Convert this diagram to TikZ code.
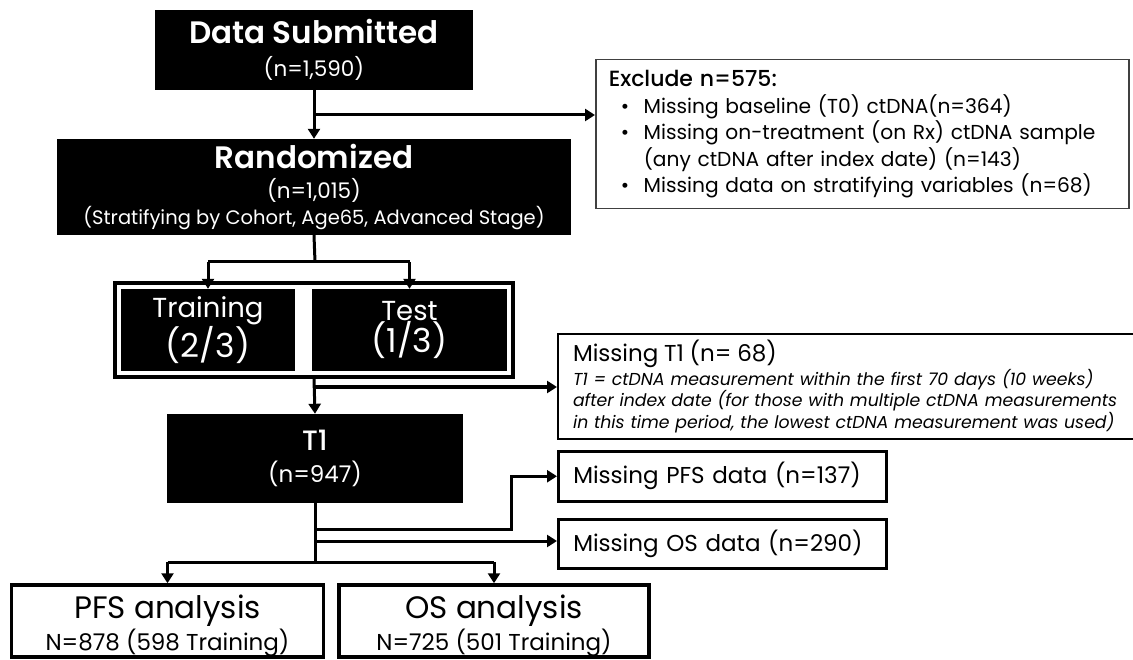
\documentclass[tikz,border=0pt]{standalone}
\usepackage{fontspec}
\setmainfont{Poppins}
\newfontfamily\medfont{Poppins Medium}
\newfontfamily\semifont{Poppins SemiBold}
\usetikzlibrary{arrows.meta,fit}

\newcommand{\fsz}[2]{\fontsize{#1}{#2}\selectfont}
\tikzstyle{darkbox} = [fill=black, text=white, inner sep=0pt, align=center]
\tikzstyle{notebox} = [draw=black, fill=white, align=left, inner xsep=15pt, inner ysep=0pt]
\tikzstyle{resultbox} = [draw=black, line width=3.5pt, fill=white, align=center, inner sep=0pt]
\tikzstyle{trunk} = [line width=3pt]
\tikzstyle{flow} = [line width=3pt, -{Triangle[length=10pt,width=12pt]}]

\begin{document}
\begin{tikzpicture}[x=1pt,y=-1pt]
\useasboundingbox (0,0) rectangle (1133,660);

% main column
\node[darkbox, minimum width=318, minimum height=80, font=\fsz{21.5}{33}] (submitted) at (314,50)
    {{\semifont\fsz{31}{33}Data Submitted}\\(n=1,590)};
\node[darkbox, minimum width=514, minimum height=96, font=\fsz{21.5}{30}] (randomized) at (314,187)
    {{\semifont\fsz{31}{30}Randomized}\\(n=1,015)\\[-4pt]{\fsz{19.5}{22}(Stratifying by Cohort, Age65, Advanced Stage)}};

\node[darkbox, minimum width=174, minimum height=82, font=\fsz{33}{31}] (training) at (208,330)
    {{\fsz{27.5}{31}Training}\\(2/3)};
\node[darkbox, minimum width=195, minimum height=82, font=\fsz{33}{31}] (test) at (409.5,330)
    {{\fsz{27.5}{31}Test}\\(1/3)};
\node[draw=black, line width=4pt, inner sep=6pt, fit=(training)(test)] (split) {};

\node[darkbox, minimum width=296, minimum height=89, font=\fsz{23}{32}] (t1) at (315,458.5)
    {{\medfont\fsz{28}{32}T1}\\(n=947)};

\node[resultbox, minimum width=312, minimum height=72, font=\fsz{23}{32}] (pfs) at (167.5,621)
    {\rule{0pt}{33pt}{\fsz{31}{32}PFS analysis}\\N=878 (598 Training)};
\node[resultbox, minimum width=310, minimum height=72, font=\fsz{23}{32}] (os) at (494,621)
    {\rule{0pt}{33pt}{\fsz{31}{32}OS analysis}\\N=725 (501 Training)};

% exclusions on the right
\node[notebox, draw=black!75, line width=1.5pt, anchor=north west, minimum height=149,
      inner xsep=13pt, text width=507, font=\fsz{20.2}{26.5}] (exclude) at (595,59)
    {{\medfont\fsz{22}{26.5}Exclude n=575:}\\
     \hspace*{12pt}\makebox[23pt][l]{•}Missing baseline (T0) ctDNA(n=364)\\
     \hspace*{12pt}\makebox[23pt][l]{•}Missing on-treatment (on Rx) ctDNA sample\\
     \hspace*{35pt}(any ctDNA after index date) (n=143)\\
     \hspace*{12pt}\makebox[23pt][l]{•}Missing data on stratifying variables (n=68)};
\node[notebox, line width=2pt, anchor=north west, minimum height=105,
      text width=560, font=\fsz{17.3}{21.5}] (misst1) at (557,333)
    {{\fsz{23}{23}Missing T1 (n=~68)}\\
     {\itshape T1 = ctDNA measurement within the first 70 days (10 weeks)}\\
     {\itshape after index date (for those with multiple ctDNA measurements}\\
     {\itshape in this time period, the lowest ctDNA measurement was used)}};
\node[notebox, line width=2.5pt, anchor=north west, text width=298, minimum height=50,
      font=\fsz{23}{26}] (misspfs) at (557,450) {Missing PFS data (n=137)};
\node[notebox, line width=2.5pt, anchor=north west, text width=298, minimum height=49,
      font=\fsz{23}{26}] (missos) at (557,518) {Missing OS data (n=290)};

% connectors
\coordinate (exj) at (315,115);
\coordinate (t1j) at (315,387);
\coordinate (pfsj) at (315,529);
\coordinate (osj) at (315,541);
\coordinate (fork) at (315,262);
\coordinate (endfork) at (315,562);

\draw[flow] (submitted.south) -- (randomized.north);
\draw[flow] (exj) -- (exj -| exclude.west);
\draw[trunk] (randomized.south) -- (fork);
\draw[trunk] (fork -| training.north) -- (fork -| test.north);
\draw[flow] (fork -| training.north) -- (training.north);
\draw[flow] (fork -| test.north) -- (test.north);

\draw[flow] (split.south) -- (t1.north);
\draw[flow] (t1j) -- (t1j -| misst1.west);

\draw[trunk] (t1.south) -- (endfork);
\draw[flow] (pfsj) -- (511,529) |- (misspfs.west);
\draw[flow] (osj) -- (osj -| missos.west);
\draw[trunk] (endfork -| pfs.north) -- (endfork -| os.north);
\draw[flow] (endfork -| pfs.north) -- (pfs.north);
\draw[flow] (endfork -| os.north) -- (os.north);
\end{tikzpicture}
\end{document}
